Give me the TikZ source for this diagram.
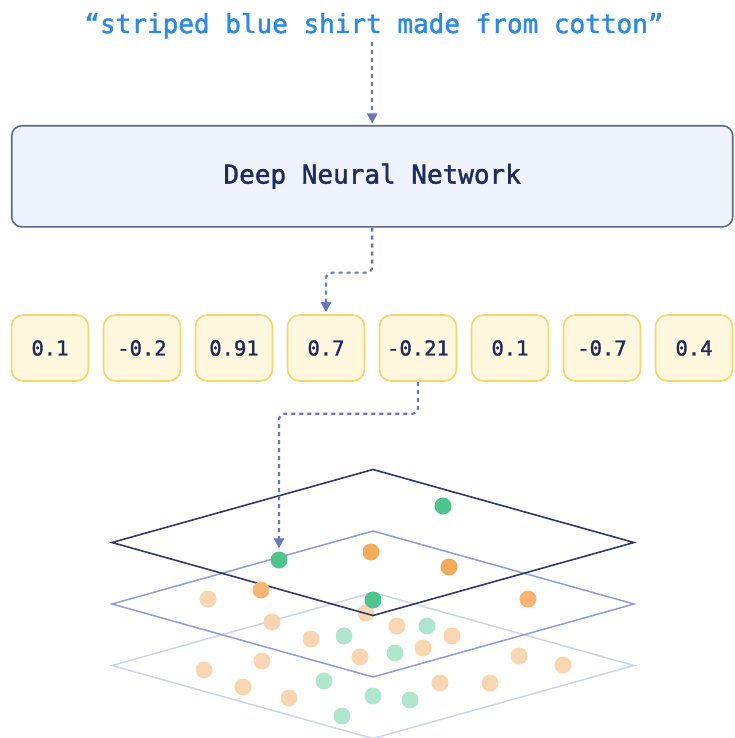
\documentclass[tikz,border=0pt]{standalone}
\usepackage{fontspec}
\newfontfamily\labelfont{DejaVu Sans Mono}[FakeBold=1.6]
\usetikzlibrary{arrows.meta}

\definecolor{queryblue}{HTML}{2A8AEB}
\definecolor{inkblue}{HTML}{1F2B5C}
\definecolor{flowblue}{HTML}{6878BE}
\definecolor{dnnfill}{HTML}{EEF3FD}
\definecolor{dnnline}{HTML}{5B6A92}
\definecolor{vecfill}{HTML}{FFF7DE}
\definecolor{vecline}{HTML}{F5D666}
\definecolor{planetop}{HTML}{2F3A66}
\definecolor{planemid}{HTML}{8E9ED3}
\definecolor{planelow}{HTML}{CDD5ED}
\definecolor{gdark}{HTML}{4DC48B}
\definecolor{odark}{HTML}{F4AB5B}
\definecolor{omid}{HTML}{F6B572}
\definecolor{glight}{HTML}{AFE7CE}
\definecolor{olight}{HTML}{F9D6AF}

\tikzset{
  flow/.style={flowblue, line width=2.2pt, dash pattern=on 4pt off 4pt,
    rounded corners=6pt, -{Triangle[length=10pt,width=10pt]}},
  vecbox/.style={draw=vecline, fill=vecfill, line width=1.6pt, rounded corners=12pt,
    minimum width=77pt, minimum height=66pt, inner sep=0pt, text=inkblue,
    font=\labelfont\fontsize{20.5}{24}\selectfont},
  dot/.style={circle, inner sep=0pt, minimum size=17pt},
}

\begin{document}
\begin{tikzpicture}[x=1pt, y=-1pt]
  \useasboundingbox (0,0) rectangle (734,738);

  % query text
  \node[anchor=base, text=queryblue, font=\labelfont\fontsize{26}{30}\selectfont]
    (query) at (374,33) {“striped blue shirt made from cotton”};

  % network
  \node[draw=dnnline, fill=dnnfill, line width=1.6pt, rounded corners=10pt,
    minimum width=721pt, minimum height=101pt, text=inkblue,
    font=\labelfont\fontsize{26}{30}\selectfont] (dnn) at (372.2,176.3) {Deep Neural Network};

  % embedding vector
  \foreach \v [count=\i] in {0.1,-0.2,0.91,0.7,-0.21,0.1,-0.7,0.4}
    \node[vecbox] (v\i) at ({50+92*(\i-1)},348) {\v};

  % lower layers
  \draw[planelow, line width=1.5pt] (112,665.5) -- (373,592.5) -- (634,665.5) -- (373,738.5) -- cycle;
  \foreach \p in {(208,599),(272,622),(366,613),(311,639),(397,626),(452,636),(360,657),(423,648),
                  (519,656),(563,665),(262,661),(204,670),(243,687),(289,698),(440,683),(490,683)}
    \node[dot, fill=olight] at \p {};
  \foreach \p in {(344,636),(427,626),(395,653),(324,681),(373,696),(410,700),(342,716)}
    \node[dot, fill=glight] at \p {};
  \draw[planemid, line width=1.5pt] (112,604) -- (373,531) -- (634,604) -- (373,677) -- cycle;

  % top layer
  \draw[planetop, line width=1.6pt] (112,542.5) -- (373,469.5) -- (634,542.5) -- (373,615.5) -- cycle;
  \foreach \p in {(261,590),(528,599)}
    \node[dot, fill=omid] at \p {};
  \foreach \p in {(371,552),(449,567)}
    \node[dot, fill=odark] at \p {};
  \foreach \p in {(443,506),(373,600)}
    \node[dot, fill=gdark] at \p {};
  \node[dot, fill=gdark] (hit) at (279,560) {};

  % connectors
  \draw[flow, shorten >=1.5pt] (query.south -| dnn.north) -- (dnn.north);
  \draw[flow, shorten >=2pt] (dnn.south) -- ++(0,45) -| (v4.north);
  \draw[flow, shorten >=3pt] (v5.south) -- ++(0,32) -| (hit.north);
\end{tikzpicture}
\end{document}
